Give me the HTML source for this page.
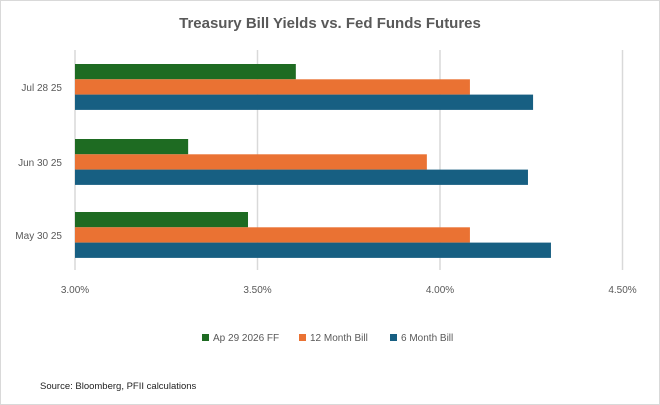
<!DOCTYPE html>
<html><head><meta charset="utf-8"><style>
body{margin:0;background:#fff;}
svg{display:block;font-family:"Liberation Sans",sans-serif;}
</style></head><body>
<svg id="chart" width="660" height="405" viewBox="0 0 660 405">
<rect x="0.5" y="0.5" width="659" height="404" fill="#fff" stroke="#d9d9d9"/>
<text x="330" y="28" text-anchor="middle" font-size="15" font-weight="bold" fill="#595959">Treasury Bill Yields vs. Fed Funds Futures</text>
<g id="grid"></g><g id="bars"></g><g id="labels"></g>
<g>
<rect x="202" y="334" width="7" height="7" fill="#1e6b22"/>
<text x="213" y="341" font-size="10" fill="#595959">Ap 29 2026 FF</text>
<rect x="299" y="334" width="7" height="7" fill="#ea7233"/>
<text x="310" y="341" font-size="10" fill="#595959">12 Month Bill</text>
<rect x="390" y="334" width="7" height="7" fill="#175f82"/>
<text x="401" y="341" font-size="10" fill="#595959">6 Month Bill</text>
</g>
<text x="40" y="389" font-size="9.5" fill="#222">Source: Bloomberg, PFII calculations</text>
</svg>
<script>
const categories = ["Jul 28 25","Jun 30 25","May 30 25"];
const ffValues = [3.605, 3.31, 3.474];
const bill12Values = [4.082, 3.964, 4.082];
const bill6Values = [4.255, 4.241, 4.304];
const tickValues = [3.0, 3.5, 4.0, 4.5];
const tickLabels = ["3.00%","3.50%","4.00%","4.50%"];
const NS="http://www.w3.org/2000/svg";
const x0=75, pxPerUnit=365, xMin=3.0;
const xs=v=>x0+(v-xMin)*pxPerUnit;
const catTop=[64,139,212], barH=15.3;
const grid=document.getElementById('grid'), bars=document.getElementById('bars'), labels=document.getElementById('labels');
function mk(t,a,p){const e=document.createElementNS(NS,t);for(const k in a)e.setAttribute(k,a[k]);p.appendChild(e);return e;}
tickValues.forEach((v,i)=>{
  const l=mk('line',{x1:xs(v),x2:xs(v),y1:50,y2:270,stroke:'#d9d9d9','stroke-width':1.5},grid);
  
  
  const t=mk('text',{x:xs(v),y:293,'text-anchor':'middle','font-size':10,fill:'#595959'},labels);
  t.textContent=tickLabels[i];
  
  
});
const series=[[ffValues,'#1e6b22','ff'],[bill12Values,'#ea7233','12m'],[bill6Values,'#175f82','6m']];
categories.forEach((c,ci)=>{
  series.forEach((s,si)=>{
    const y=catTop[ci]+si*barH;
    const r=mk('rect',{x:x0,y:y,width:xs(s[0][ci])-x0,height:barH,fill:s[1]},bars);
    
    
  });
  const t=mk('text',{x:62,y:catTop[ci]+barH*1.5+4,'text-anchor':'end','font-size':10,fill:'#595959'},labels);
  t.textContent=c;
  
  
});
</script>
</body></html>
